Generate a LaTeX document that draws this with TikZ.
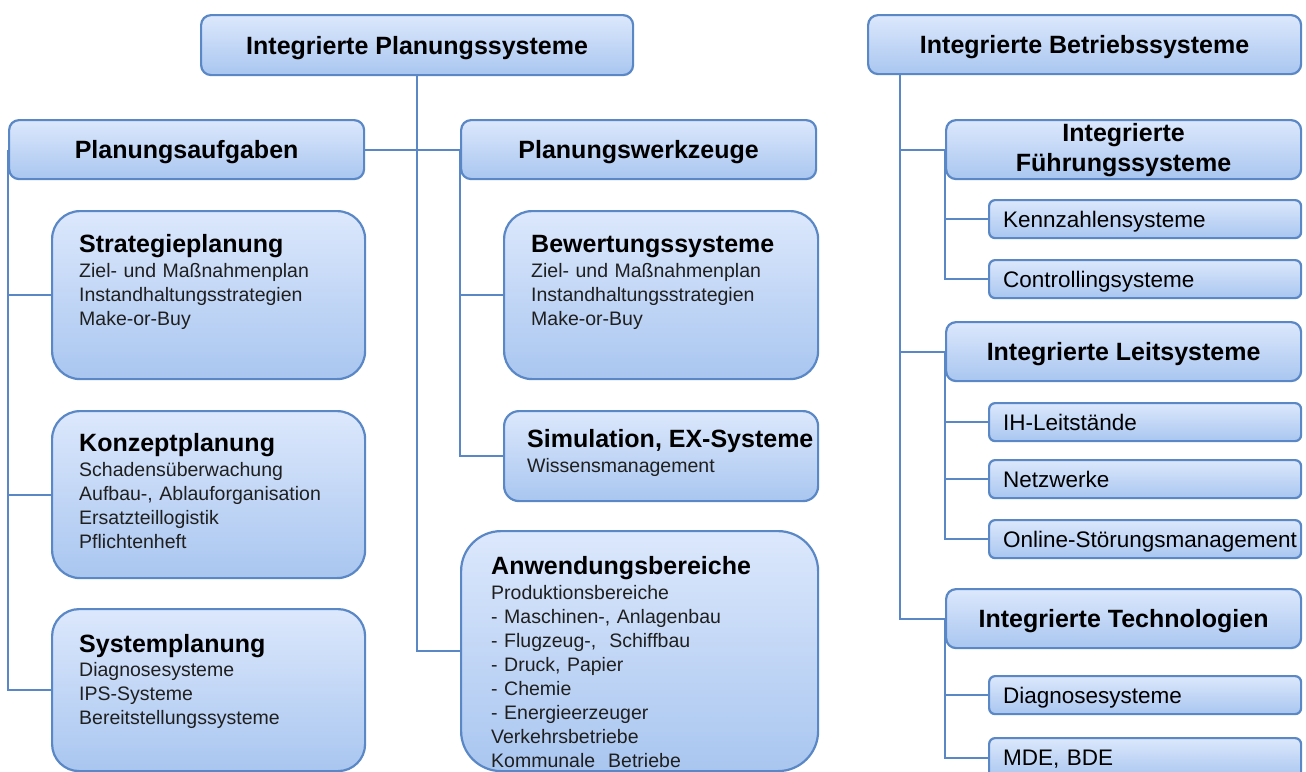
\documentclass[tikz,border=0pt]{standalone}
\usepackage{fontspec}
\setmainfont{Liberation Sans}
\usetikzlibrary{backgrounds}

\definecolor{boxline}{HTML}{5A87C5}
\definecolor{filltop}{HTML}{DCE8FC}
\definecolor{fillbot}{HTML}{A9C6F0}
\definecolor{bodytext}{HTML}{1F1F1F}

\tikzset{
  box/.style={draw=boxline, line width=2.2pt, top color=filltop, bottom color=fillbot,
    anchor=north west, inner sep=0pt},
  headbox/.style={box, rounded corners=10pt, minimum width=355pt, minimum height=59pt,
    align=center, text depth=0pt, font=\fontsize{25}{30}\selectfont\bfseries},
  itembox/.style={box, rounded corners=6pt, minimum width=312pt, minimum height=38pt,
    inner xsep=14pt, text width=284pt, align=left, text depth=0pt,
    font=\fontsize{22.5}{27}\selectfont},
  roundbox/.style={box, minimum width=313pt},
  boxhead/.style={anchor=base west, inner sep=0pt, font=\fontsize{25}{30}\selectfont\bfseries},
  boxbody/.style={anchor=base west, inner sep=0pt, text width=300pt, align=left,
    text=bodytext, font=\fontsize{19.5}{24}\selectfont},
  link/.style={draw=boxline, line width=2.2pt}
}

\begin{document}
\begin{tikzpicture}[x=1pt,y=-1pt]
\useasboundingbox (0,0) rectangle (1306,771);

% planning systems
\node[headbox, minimum width=432pt, minimum height=60pt] (ips) at (200,14) {Integrierte Planungssysteme};
\node[headbox] (pa) at (8,119) {Planungsaufgaben};
\node[headbox] (pw) at (460,119) {Planungswerkzeuge};

\node[roundbox, minimum height=168pt, rounded corners=28pt] (strat) at (51,210) {};
\node[boxhead] (strat-h) at (79,252) {Strategieplanung};
\node[boxbody] (strat-b) at (79,277) {Ziel- und Maßnahmenplan\\Instandhaltungsstrategien\\Make-or-Buy};

\node[roundbox, minimum height=167pt, rounded corners=28pt] (konz) at (51,410) {};
\node[boxhead] (konz-h) at (79,451) {Konzeptplanung};
\node[boxbody] (konz-b) at (79,476) {Schadensüberwachung\\Aufbau-, Ablauforganisation\\Ersatzteillogistik\\Pflichtenheft};

\node[roundbox, minimum height=162pt, rounded corners=27pt] (sys) at (51,608) {};
\node[boxhead] (sys-h) at (79,652) {Systemplanung};
\node[boxbody] (sys-b) at (79,676) {Diagnosesysteme\\IPS-Systeme\\Bereitstellungssysteme};

\node[roundbox, minimum width=314pt, minimum height=168pt, rounded corners=28pt] (bew) at (503,210) {};
\node[boxhead] (bew-h) at (531,252) {Bewertungssysteme};
\node[boxbody] (bew-b) at (531,277) {Ziel- und Maßnahmenplan\\Instandhaltungsstrategien\\Make-or-Buy};

\node[roundbox, minimum width=314pt, minimum height=90pt, rounded corners=15pt] (sim) at (503,410) {};
\node[boxhead] (sim-h) at (527,447) {Simulation, EX-Systeme};
\node[boxbody] (sim-b) at (527,472) {Wissensmanagement};

\node[roundbox, minimum width=357pt, minimum height=240pt, rounded corners=40pt] (anw) at (460,530) {};
\node[boxhead] (anw-h) at (491,574) {Anwendungsbereiche};
\node[boxbody] (anw-b) at (491,599) {Produktionsbereiche\\- Maschinen-, Anlagenbau\\- Flugzeug-,~~Schiffbau\\- Druck, Papier\\- Chemie\\- Energieerzeuger\\Verkehrsbetriebe\\Kommunale~~Betriebe};

% operating systems
\node[headbox, minimum width=433pt] (ibs) at (867,14) {Integrierte Betriebssysteme};
\node[headbox, text depth={}] (ifs) at (945,119) {Integrierte\\Führungssysteme};
\node[itembox] (kenn) at (988,199) {Kennzahlensysteme};
\node[itembox] (ctrl) at (988,259) {Controllingsysteme};
\node[headbox] (ils) at (945,321) {Integrierte Leitsysteme};
\node[itembox] (ihl) at (988,402) {IH-Leitstände};
\node[itembox] (netz) at (988,459) {Netzwerke};
\node[itembox] (onl) at (988,519) {\mbox{Online-Störungsmanagement}};
\node[headbox] (itech) at (945,588) {Integrierte Technologien};
\node[itembox] (diag) at (988,675) {Diagnosesysteme};
\node[itembox, minimum height=40pt] (mde) at (988,737) {MDE, BDE};

% connectors
\begin{scope}[on background layer]
\draw[link] (ips.south) |- (anw.west);
\draw[link] (pa.east) -- (pw.west);
\foreach \n in {strat,konz,sys} \draw[link] (pa.west) |- (\n.west);
\foreach \n in {bew,sim} \draw[link] (pw.west) |- (\n.west);
\coordinate (ibs-trunk) at ([xshift=33pt]ibs.south west);
\foreach \n in {ifs,ils,itech} \draw[link] (ibs-trunk) |- (\n.west);
\foreach \n in {kenn,ctrl} \draw[link] (ifs.west) |- (\n.west);
\foreach \n in {ihl,netz,onl} \draw[link] (ils.west) |- (\n.west);
\foreach \n in {diag,mde} \draw[link] (itech.west) |- (\n.west);
\end{scope}
\end{tikzpicture}
\end{document}
